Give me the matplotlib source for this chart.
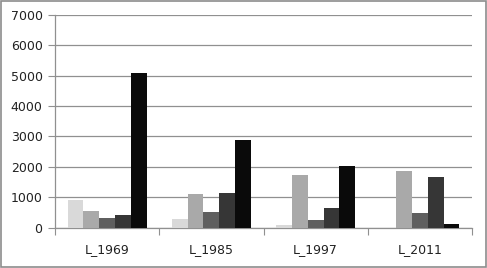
import numpy as np
import matplotlib.pyplot as plt
from matplotlib.patches import Rectangle

# data
groups = ['L_1969', 'L_1985', 'L_1997', 'L_2011']
s1 = [910, 285, 77, 0]
s2 = [548, 1117, 1720, 1851]
s3 = [329, 515, 241, 493]
s4 = [427, 1139, 646, 1654]
s5 = [5082, 2892, 2037, 120]
series = [s1, s2, s3, s4, s5]
colors = ['#d9d9d9', '#a9a9a9', '#5f5f5f', '#363636', '#0a0a0a']

fig = plt.figure(figsize=(4.87, 2.68), dpi=100)
ax = fig.add_axes([55/487, 1 - 227.7/268, (472 - 55)/487, (227.7 - 14.7)/268])

x = np.arange(len(groups))
w = 0.152
for i, (vals, c) in enumerate(zip(series, colors)):
    ax.bar(x + (i - 2) * w, vals, width=w, color=c, zorder=3)

ax.set_ylim(0, 7000)
ax.set_yticks(range(0, 7001, 1000))
ax.set_xlim(-0.5, len(groups) - 0.5)
ax.yaxis.grid(True, color='#909090', linewidth=0.9, zorder=0)
ax.set_axisbelow(True)

# group boundary ticks, labels centered
ax.set_xticks(np.arange(-0.5, len(groups), 1.0))
ax.set_xticklabels([])
ax.set_xticks(x, minor=True)
ax.set_xticklabels(groups, minor=True)
ax.tick_params(axis='x', which='major', length=5, color='#909090', direction='out')
ax.tick_params(axis='x', which='minor', length=0, pad=11, labelsize=9, labelcolor='#222222')
ax.tick_params(axis='y', length=5, color='#909090', labelsize=9, labelcolor='#222222', pad=4)

for s in ['top', 'right']:
    ax.spines[s].set_visible(False)
for s in ['left', 'bottom']:
    ax.spines[s].set_color('#909090')
    ax.spines[s].set_linewidth(0.9)

# outer chart border
fig.patches.append(Rectangle((0.002, 0.003), 0.995, 0.993, transform=fig.transFigure,
                             fill=False, edgecolor='#8c8c8c', linewidth=1.2))

fig.savefig('out.png', dpi=100)
